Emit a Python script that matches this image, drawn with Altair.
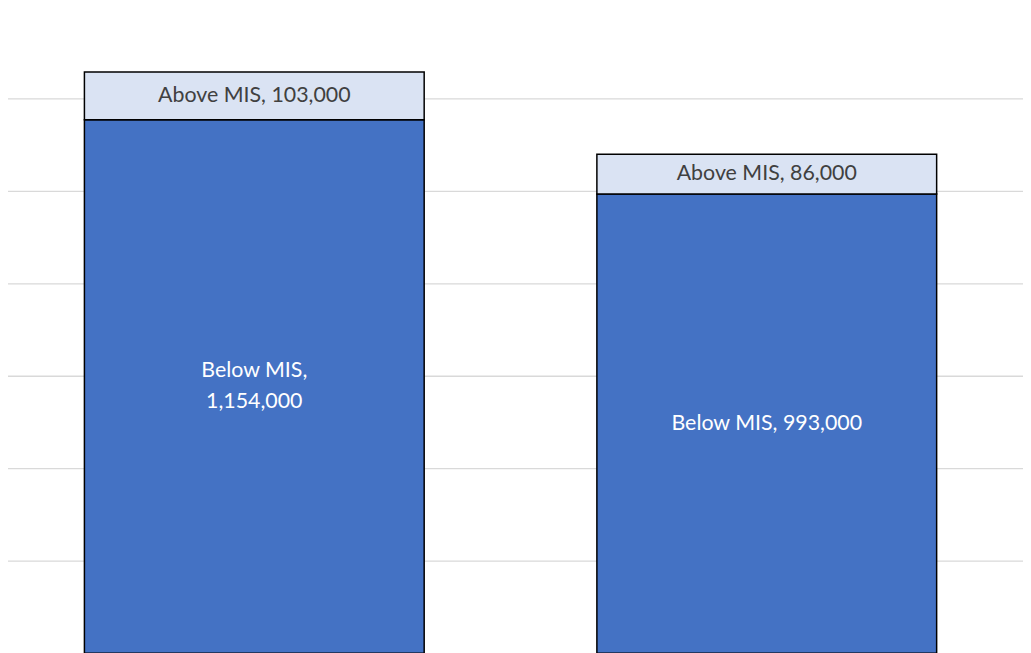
import altair as alt
import pandas as pd

categories = ["Group 1", "Group 2"]
below_mis = [1154000, 993000]
above_mis = [103000, 86000]
below_labels = [["Below MIS,", "1,154,000"], ["Below MIS, 993,000"]]
above_labels = [["Above MIS, 103,000"], ["Above MIS, 86,000"]]

rows = []
for i, c in enumerate(categories):
    rows.append({"cat": c, "seg": "Below MIS", "lo": 0,
                 "hi": below_mis[i], "label": below_labels[i]})
    rows.append({"cat": c, "seg": "Above MIS", "lo": below_mis[i],
                 "hi": below_mis[i] + above_mis[i], "label": above_labels[i]})
df = pd.DataFrame(rows)
df["mid"] = (df["lo"] + df["hi"]) / 2
df["nlines"] = df["label"].apply(len)

x = alt.X("cat:N", axis=None,
          scale=alt.Scale(paddingInner=0.337, paddingOuter=0.1685))
yscale = alt.Scale(domain=[0, 1400000], nice=False)
seg_dom = ["Below MIS", "Above MIS"]

bars = alt.Chart(df).mark_bar(stroke="black", strokeWidth=1.5).encode(
    x=x,
    y=alt.Y("lo:Q", scale=yscale,
            axis=alt.Axis(values=[0, 200000, 400000, 600000, 800000, 1000000, 1200000, 1400000],
                          grid=True, gridColor="#d9d9d9", gridWidth=1.3,
                          labels=False, ticks=False, domain=False, title=None)),
    y2="hi:Q",
    color=alt.Color("seg:N", scale=alt.Scale(domain=seg_dom,
                                             range=["#4472C4", "#DAE3F3"]), legend=None),
)

def text_layer(n, dy):
    return alt.Chart(df).transform_filter(f"datum.nlines == {n}").mark_text(
        font="Lato", fontSize=21.5, baseline="middle", lineHeight=31, dy=dy).encode(
        x=x,
        y=alt.Y("mid:Q", scale=yscale),
        text="label",
        color=alt.Color("seg:N", scale=alt.Scale(domain=seg_dom,
                                                 range=["#ffffff", "#404040"]), legend=None),
    )

chart = alt.layer(bars, text_layer(1, 0), text_layer(2, -15.5)).resolve_scale(
    color="independent").properties(
    width=1031, height=651,
    padding={"left": -10, "top": -4, "right": 0, "bottom": 10},
).configure_view(stroke=None)

chart.save("out.html", embed_options={"renderer": "svg", "actions": False})
